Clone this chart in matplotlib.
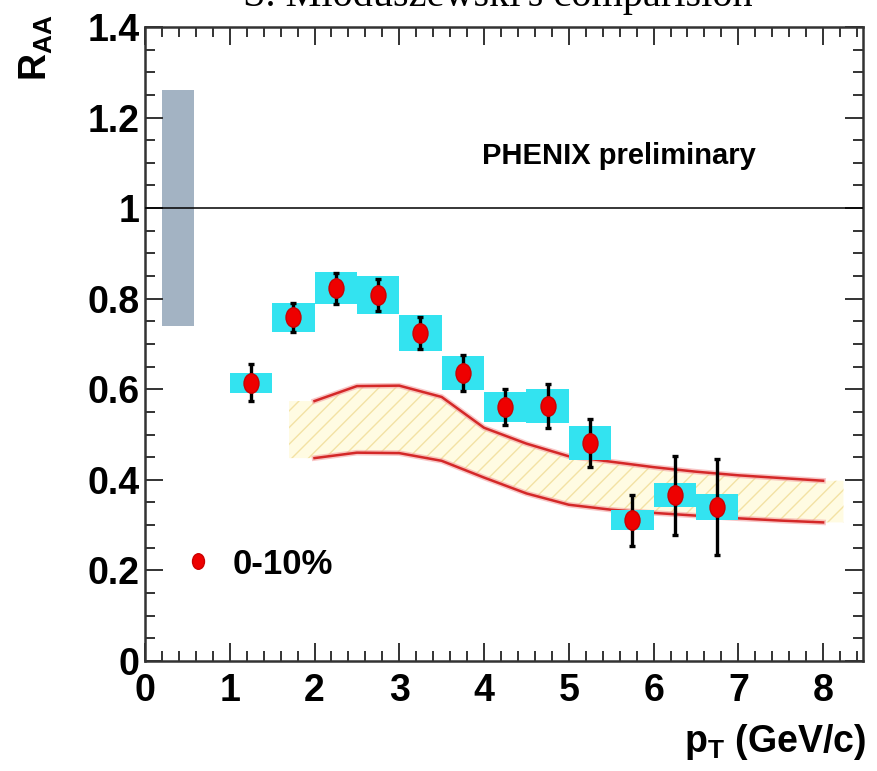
import matplotlib
matplotlib.use("Agg")
import matplotlib.pyplot as plt
import numpy as np
from matplotlib.path import Path
from matplotlib.ticker import MultipleLocator

# ---------------- data ----------------
pt = [1.25, 1.75, 2.25, 2.75, 3.25, 3.75, 4.25, 4.75, 5.25, 5.75, 6.25, 6.75]
raa = [0.614, 0.759, 0.823, 0.808, 0.724, 0.636, 0.561, 0.563, 0.481, 0.311, 0.366, 0.340]
stat_err = [0.041, 0.032, 0.034, 0.036, 0.036, 0.039, 0.039, 0.049, 0.053, 0.056, 0.087, 0.105]
sys_err = [0.022, 0.032, 0.035, 0.042, 0.039, 0.038, 0.033, 0.037, 0.038, 0.022, 0.026, 0.028]
bin_width = 0.5

norm_center = 1.0
norm_err = 0.26
norm_x = 0.39
norm_width = 0.38

theory_x = [2.0, 2.5, 3.0, 3.5, 4.0, 4.5, 5.0, 5.5, 6.0, 6.5, 7.0, 7.5, 8.0]
theory_hi = [0.574, 0.607, 0.608, 0.583, 0.515, 0.480, 0.452, 0.440, 0.428, 0.418, 0.410, 0.404, 0.398]
theory_lo = [0.448, 0.460, 0.459, 0.442, 0.405, 0.370, 0.345, 0.334, 0.327, 0.321, 0.315, 0.310, 0.306]
band_x = [1.70] + theory_x + [8.24]
band_hi = [theory_hi[0]] + theory_hi + [theory_hi[-1]]
band_lo = [theory_lo[0]] + theory_lo + [theory_lo[-1]]

xticks = [0, 1, 2, 3, 4, 5, 6, 7, 8]
yticks = [0, 0.2, 0.4, 0.6, 0.8, 1.0, 1.2, 1.4]
ytick_labels = ["0", "0.2", "0.4", "0.6", "0.8", "1", "1.2", "1.4"]

title = "S. Mioduszewski's comparision"
label_text = "PHENIX preliminary"
legend_label = "0-10%"

# ---------------- style ----------------
plt.rcParams["font.family"] = ["Liberation Sans", "DejaVu Sans"]
plt.rcParams["font.weight"] = "bold"
plt.rcParams["mathtext.fontset"] = "custom"
plt.rcParams["mathtext.rm"] = "Liberation Sans:bold"
plt.rcParams["mathtext.bf"] = "Liberation Sans:bold"
plt.rcParams["mathtext.it"] = "Liberation Sans:bold"
plt.rcParams["hatch.linewidth"] = 1.0
plt.rcParams["hatch.color"] = "#f3e2a4"

fig = plt.figure(figsize=(8.77, 7.71), dpi=100)
ax = fig.add_axes([0.1653, 0.1427, 0.984 - 0.1653, 0.965 - 0.1427])

ell = Path.unit_circle()
ell = Path(ell.vertices * np.array([1.0, 1.3]), ell.codes)

# normalisation uncertainty box
ax.bar([norm_x], [2 * norm_err], bottom=[norm_center - norm_err], width=norm_width,
       color="#a3b3c3", edgecolor="none", zorder=1)

# theory band
ax.fill_between(band_x, band_lo, band_hi, facecolor="#fffbe2", edgecolor="#f3e2a4",
                hatch="//", linewidth=0, zorder=2)
ax.plot(theory_x, theory_hi, color="#f4a0a0", lw=4.0, alpha=0.6, zorder=3)
ax.plot(theory_x, theory_lo, color="#f4a0a0", lw=4.0, alpha=0.6, zorder=3)
ax.plot(theory_x, theory_hi, color="#d42828", lw=1.8, zorder=3)
ax.plot(theory_x, theory_lo, color="#d42828", lw=1.8, zorder=3)

# unity line
ax.axhline(1.0, color="black", lw=1.1, zorder=4)

# systematic boxes
lo_sys = [v - s for v, s in zip(raa, sys_err)]
ax.bar(pt, [2 * s for s in sys_err], bottom=lo_sys, width=bin_width,
       color="#33e3f0", edgecolor="none", zorder=5)

# data points
ax.errorbar(pt, raa, yerr=stat_err, fmt="none", ecolor="black", elinewidth=2.4,
            capsize=2, capthick=2.4, zorder=6)
pts, = ax.plot(pt, raa, linestyle="none", marker=ell, markersize=14,
               markerfacecolor="#ee0000", markeredgecolor="#cc0000", zorder=7,
               label=legend_label)

ax.set_xlim(0, 8.47)
ax.set_ylim(0, 1.4)
ax.set_xticks(xticks)
ax.set_xticklabels([str(t) for t in xticks])
ax.set_yticks(yticks)
ax.set_yticklabels(ytick_labels)
ax.xaxis.set_minor_locator(MultipleLocator(0.2))
ax.yaxis.set_minor_locator(MultipleLocator(0.05))
ax.tick_params(which="both", direction="in", top=True, right=True, width=1.4,
               color="#333333")
ax.tick_params(which="major", length=13)
ax.tick_params(which="minor", length=7)
ax.tick_params(axis="x", which="major", labelsize=27, pad=9)
ax.tick_params(axis="y", which="major", labelsize=27, pad=4)
for sp in ax.spines.values():
    sp.set_linewidth(1.8)
    sp.set_color("#333333")

ax.text(0.47, 0.784, label_text, transform=ax.transAxes, fontsize=21,
        fontweight="bold", ha="left", va="baseline")

leg = ax.legend(handles=[pts], loc="lower left", bbox_to_anchor=(0.03, 0.105),
                frameon=False, fontsize=25, handlelength=1.0, handletextpad=0.5,
                markerscale=0.8, borderaxespad=0)

fig.text(0.042, 0.982, r"R$_{\rm AA}$", rotation=90, fontsize=27, ha="center",
         va="top", fontweight="bold")
fig.text(0.988, 0.038, r"p$_{\rm T}$ (GeV/c)", fontsize=27, ha="right",
         va="center", fontweight="bold")
fig.text(0.568, 0.992, title, fontsize=29, family=["Liberation Serif", "DejaVu Serif"],
         fontweight="normal", ha="center", va="baseline")

fig.savefig("out.png", dpi=100)
